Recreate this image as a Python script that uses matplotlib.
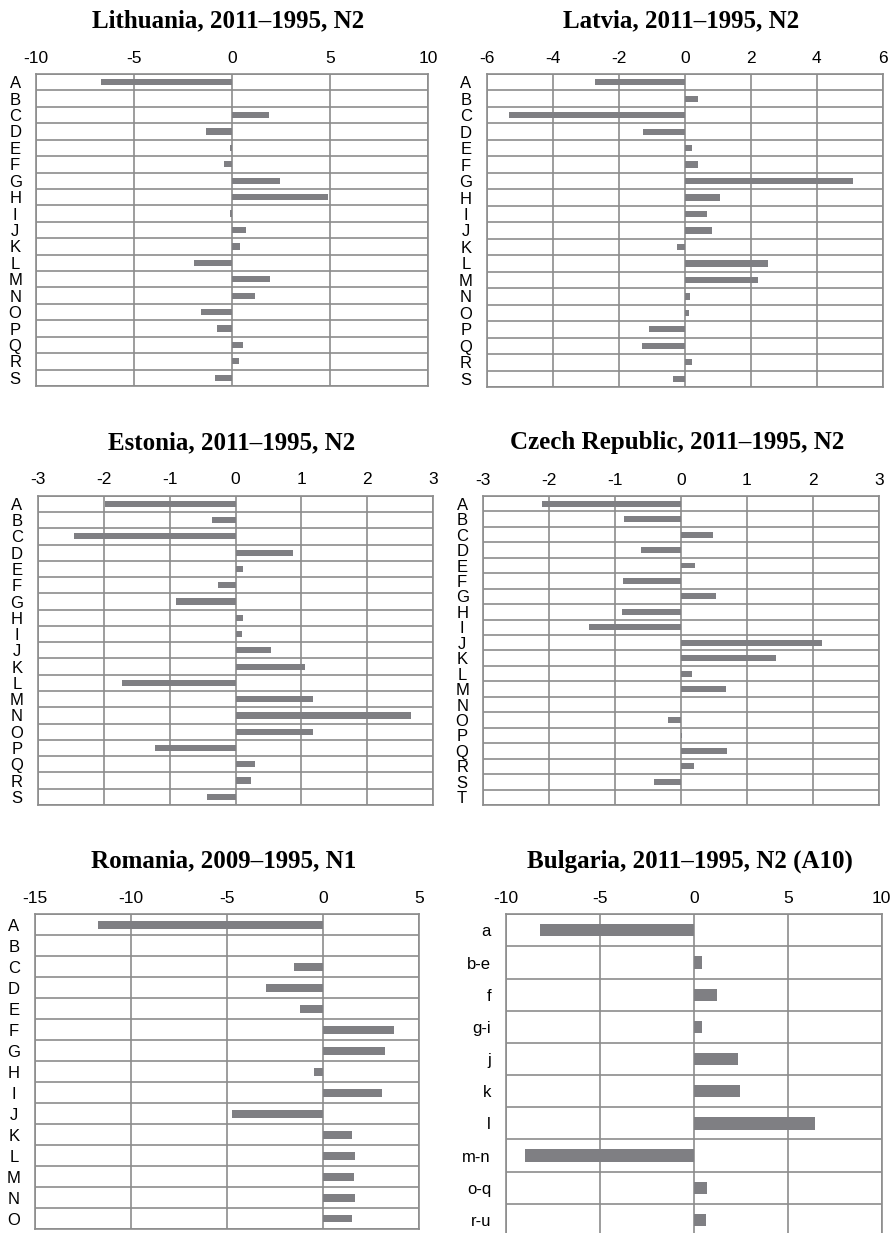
import numpy as np
import matplotlib
matplotlib.use("Agg")
import matplotlib.pyplot as plt
from matplotlib.ticker import FixedLocator

W, H = 893, 1233

letters19 = list("ABCDEFGHIJKLMNOPQRS")
letters20 = list("ABCDEFGHIJKLMNOPQRST")
letters15 = list("ABCDEFGHIJKLMNO")
bg_labels = ["a", "b-e", "f", "g-i", "j", "k", "l", "m-n", "o-q", "r-u"]

lithuania = [-6.66, 0, 1.89, -1.31, -0.12, -0.42, 2.46, 4.91, -0.12, 0.70,
             0.39, -1.94, 1.94, 1.16, -1.60, -0.75, 0.54, 0.34, -0.88]
latvia = [-2.71, 0.40, -5.33, -1.27, 0.21, 0.40, 5.11, 1.07, 0.68, 0.84,
          -0.24, 2.51, 2.22, 0.15, 0.12, -1.07, -1.30, 0.21, -0.36]
estonia = [-1.98, -0.35, -2.45, 0.87, 0.11, -0.26, -0.91, 0.12, 0.10, 0.54,
           1.05, -1.72, 1.18, 2.66, 1.17, -1.22, 0.29, 0.24, -0.43]
czech = [-2.11, -0.86, 0.48, -0.60, 0.21, -0.88, 0.54, -0.89, -1.39, 2.14,
         1.45, 0.17, 0.68, 0, -0.19, 0.02, 0.70, 0.20, -0.40, 0]
romania = [-11.70, 0, -1.53, -2.96, -1.21, 3.71, 3.21, -0.50, 3.08, -4.75,
           1.51, 1.65, 1.59, 1.68, 1.51]
bulgaria = [-8.21, 0.44, 1.21, 0.41, 2.36, 2.45, 6.45, -8.99, 0.67, 0.62]

BAR = "#7f7f83"
GRID = "#8c8c8c"

fig = plt.figure(figsize=(W / 100, H / 100), dpi=100)


def panel(box, title, title_y, cats, vals, xticks, center_labels=True):
    L, R, T, B = box
    ax = fig.add_axes([L / W, 1 - B / H, (R - L) / W, (B - T) / H])
    y = np.arange(len(cats))
    ax.barh(y, vals, height=0.38, color=BAR, zorder=3)
    ax.set_ylim(len(cats) - 0.5, -0.5)
    ax.set_xlim(xticks[0], xticks[-1])
    ax.set_xticks(xticks)
    ax.set_xticklabels([str(t) for t in xticks])
    ax.set_yticks(y)
    ax.set_yticklabels(cats)
    ax.yaxis.set_minor_locator(FixedLocator(np.arange(len(cats) + 1) - 0.5))
    ax.xaxis.tick_top()
    ax.tick_params(axis="x", which="both", length=0, pad=6, labelsize=12.5)
    ax.tick_params(axis="y", which="both", length=0, labelsize=12)
    if center_labels:
        ax.tick_params(axis="y", pad=15)
        for lab in ax.get_yticklabels():
            lab.set_ha("center")
    else:
        ax.tick_params(axis="y", pad=11)
    for lab in ax.get_xticklabels() + ax.get_yticklabels():
        lab.set_fontfamily("Liberation Sans")
    ax.grid(True, axis="x", which="major", color=GRID, lw=1.2, zorder=1)
    ax.grid(True, axis="y", which="minor", color=GRID, lw=1.2, zorder=1)
    ax.set_axisbelow(True)
    for s in ax.spines.values():
        s.set_color(GRID)
        s.set_linewidth(1.2)
    fig.text((L + R) / 2 / W - 0.004, 1 - title_y / H, title,
             ha="center", va="center", fontsize=18, fontweight="bold",
             family="Liberation Serif")
    return ax


panel((36, 428, 74, 386), "Lithuania, 2011\u20131995, N2", 21,
      letters19, lithuania, [-10, -5, 0, 5, 10])
panel((486.7, 882.7, 74, 387), "Latvia, 2011\u20131995, N2", 21,
      letters19, latvia, [-6, -4, -2, 0, 2, 4, 6])
panel((37.7, 433.3, 495.7, 805), "Estonia, 2011\u20131995, N2", 443,
      letters19, estonia, [-3, -2, -1, 0, 1, 2, 3])
panel((483, 878.7, 496, 805), "Czech Republic, 2011\u20131995, N2", 443,
      letters20, czech, [-3, -2, -1, 0, 1, 2, 3])
panel((34.7, 419.3, 914.3, 1229), "Romania, 2009\u20131995, N1", 861,
      letters15, romania, [-15, -10, -5, 0, 5])
panel((506.3, 881.7, 914.3, 1236), "Bulgaria, 2011\u20131995, N2 (A10)", 861,
      bg_labels, bulgaria, [-10, -5, 0, 5, 10], center_labels=False)

fig.savefig("out.png", dpi=100)
